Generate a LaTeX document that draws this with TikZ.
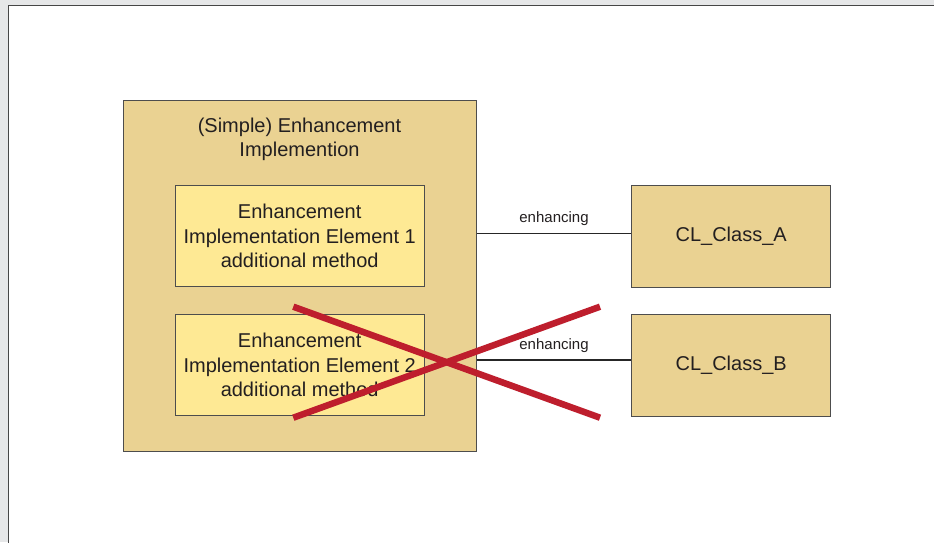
\documentclass[tikz,border=0pt]{standalone}
\usepackage{fontspec}
\setmainfont{Liberation Sans}
\definecolor{bggrey}{RGB}{230,231,232}
\definecolor{framegrey}{RGB}{70,70,70}
\definecolor{tan}{RGB}{234,210,146}
\definecolor{paleyellow}{RGB}{254,233,148}
\definecolor{txt}{RGB}{35,31,32}
\definecolor{edge}{RGB}{77,77,77}
\definecolor{crossred}{RGB}{190,30,45}
\begin{document}
\begin{tikzpicture}[x=1pt,y=-1pt,
  box/.style={draw=edge,line width=1pt,inner sep=0pt,align=center,text=txt,font=\fontsize{20}{24.5}\selectfont},
  outerbox/.style={box,fill=tan},
  elembox/.style={box,fill=paleyellow,minimum width=249.3pt,minimum height=101pt},
  classbox/.style={box,fill=tan,minimum width=199pt,minimum height=102pt},
  titletext/.style={align=center,text=txt,inner sep=0pt,font=\fontsize{20}{24.5}\selectfont},
  conn/.style={draw=black!85,line width=1.8pt},
  connlabel/.style={text=txt,inner sep=0pt,font=\fontsize{15}{18}\selectfont},
  cross/.style={draw=crossred,line width=6.5pt,line cap=butt}]
\useasboundingbox (0,0) rectangle (934,542);
\fill[bggrey] (0,0) rectangle (934,542);
\fill[white] (8.5,5.5) rectangle (940,550);
\draw[framegrey,line width=1.4pt] (8.5,550) -- (8.5,5.5) -- (940,5.5);

\node[outerbox,minimum width=353pt,minimum height=351pt] (outer) at (299.5,275.5) {};
\node[titletext] (title) at (299.5,139.5) {(Simple) Enhancement\\Implemention};
\node[elembox] (el1) at (299.7,236.2) {Enhancement\\Implementation Element 1\\additional method};
\node[elembox] (el2) at (299.7,365.3) {Enhancement\\Implementation Element 2\\additional method};
\node[classbox] (ca) at (731.2,236.2) {CL\_Class\_A};
\node[classbox] (cb) at (731.2,365) {CL\_Class\_B};

\coordinate (la) at ([yshift=2.8pt]ca.west);
\coordinate (lb) at ([yshift=5pt]cb.west);
\draw[conn] (la -| outer.east) -- (la);
\draw[conn] (lb -| outer.east) -- (lb);
\node[connlabel] (enA) at (554,218.5) {enhancing};
\node[connlabel] (enB) at (554,345.5) {enhancing};

\coordinate (x1) at (293.3,306.7);
\coordinate (x2) at (600,417.7);
\coordinate (x3) at (293.3,417.7);
\coordinate (x4) at (600,306.7);
\draw[cross] (x1) -- (x2);
\draw[cross] (x3) -- (x4);
\end{tikzpicture}
\end{document}
